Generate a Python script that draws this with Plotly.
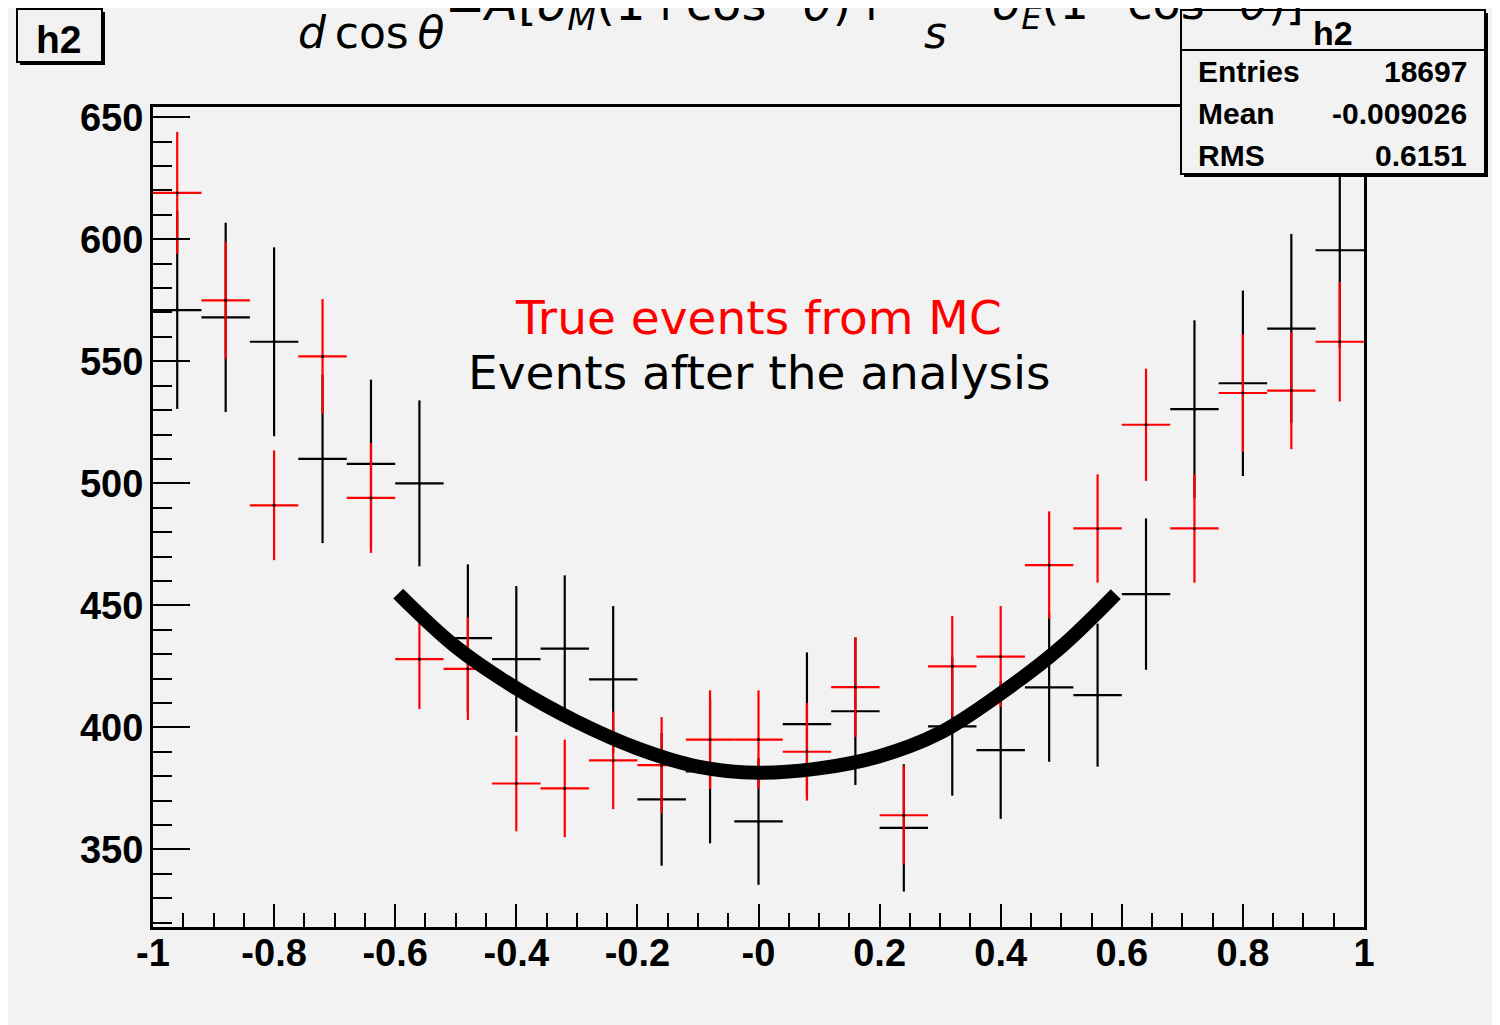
import plotly.graph_objects as go

# ---------------- data ----------------
bin_centers = [-0.96, -0.88, -0.80, -0.72, -0.64, -0.56, -0.48, -0.40, -0.32, -0.24,
               -0.16, -0.08, 0.00, 0.08, 0.16, 0.24, 0.32, 0.40, 0.48, 0.56,
               0.64, 0.72, 0.80, 0.88, 0.96]
bin_half_width = 0.04

true_mc = [619, 575, 491, 552, 494, 428, 424, 377, 375, 386.5,
           384.5, 395, 395, 390, 416.5, 364, 425, 429, 466.5, 481.5,
           524, 481.5, 537, 538, 558]
true_mc_err = [25, 24, 22.5, 23.5, 22.5, 20.5, 21, 19.6, 20, 20,
               19.7, 20.2, 20.2, 20, 20.4, 20.2, 20.6, 20.7, 22, 22.2,
               23, 22.2, 24, 24, 24.5]

analysis = [571, 568, 558, 510, 508, 500, 436.6, 428, 432.3, 419.7,
            370.5, 382, 361.5, 401.3, 406.6, 358.8, 400.4, 390.7, 416.4, 413.2,
            454.6, 530.4, 541, 563.4, 595.5]
analysis_err = [40.5, 38.8, 38.7, 34.5, 34.5, 34, 30.2, 29.9, 30, 30,
                27.2, 29.5, 26, 29.4, 30.2, 26.1, 28.4, 28.2, 30.5, 29.3,
                31, 36.4, 38, 38.8, 40]

fit_x = [-0.595, -0.5, -0.4, -0.3, -0.2, -0.1, 0.0, 0.1, 0.2, 0.3, 0.4, 0.5, 0.59]
fit_y = [454.8, 433.0, 416.0, 402.3, 391.4, 383.9, 381.4, 383.2, 388.2, 397.8, 413.9, 433.0, 454.6]

x_tick_vals = [-1, -0.8, -0.6, -0.4, -0.2, 0, 0.2, 0.4, 0.6, 0.8, 1]
x_tick_text = ["-1", "-0.8", "-0.6", "-0.4", "-0.2", "-0", "0.2", "0.4", "0.6", "0.8", "1"]
y_tick_vals = [350, 400, 450, 500, 550, 600, 650]

hist_name = "h2"
stat_labels = ["Entries", "Mean", "RMS"]
stat_values = ["18697", "-0.009026", "0.6151"]
legend_true = "True events from MC"
legend_ana = "Events after the analysis"

# ---------------- layout helpers ----------------
W, H = 1500, 1025
ML, MR, MT, MB = 145, 144, 99, 106
OFF = 8  # browser body margin
PW = W - ML - MR
PH = H - MT - MB
BG = "#f2f2f2"


def fx(px):
    return ((px - OFF) - ML) / PW


def fy(py):
    return ((H - MB) - (py - OFF)) / PH


fig = go.Figure()

fig.add_trace(go.Scatter(
    x=bin_centers, y=analysis, mode="markers",
    marker=dict(color="black", size=3),
    error_x=dict(type="constant", value=bin_half_width, thickness=2.2, width=0, color="black"),
    error_y=dict(type="data", array=analysis_err, thickness=2.2, width=0, color="black"),
    hoverinfo="x+y", showlegend=False))

fig.add_trace(go.Scatter(
    x=bin_centers, y=true_mc, mode="markers",
    marker=dict(color="black", size=3),
    error_x=dict(type="constant", value=bin_half_width, thickness=2.2, width=0, color="red"),
    error_y=dict(type="data", array=true_mc_err, thickness=2.2, width=0, color="red"),
    hoverinfo="x+y", showlegend=False))

fig.add_trace(go.Scatter(
    x=fit_x, y=fit_y, mode="lines",
    line=dict(color="black", width=14, shape="spline"),
    hoverinfo="skip", showlegend=False))

tick_font = dict(family="Liberation Sans", size=38, color="black", weight="bold")

fig.update_xaxes(
    range=[-1, 1], tickmode="array", tickvals=x_tick_vals, ticktext=x_tick_text,
    ticks="inside", ticklen=23, tickwidth=2, tickcolor="black",
    minor=dict(tickmode="linear", tick0=-1, dtick=0.05, ticks="inside", ticklen=14,
               tickwidth=2, tickcolor="black"),
    showline=True, linewidth=3, linecolor="black", mirror=True,
    showgrid=False, zeroline=False, tickfont=tick_font, ticklabelstandoff=-10)

fig.update_yaxes(
    range=[318.2, 654.2], tickmode="array", tickvals=y_tick_vals,
    ticks="inside", ticklen=37, tickwidth=2, tickcolor="black",
    minor=dict(tickmode="linear", tick0=0, dtick=10, ticks="inside", ticklen=19,
               tickwidth=2, tickcolor="black"),
    showline=True, linewidth=3, linecolor="black", mirror=True,
    showgrid=False, zeroline=False, tickfont=tick_font, ticklabelstandoff=-1)

shapes = []
annotations = []

# top-left title box
shapes.append(dict(type="rect", xref="paper", yref="paper",
                   x0=fx(20), x1=fx(105), y0=fy(65), y1=fy(12),
                   fillcolor="black", line=dict(width=0), layer="above"))
shapes.append(dict(type="rect", xref="paper", yref="paper",
                   x0=fx(17), x1=fx(102), y0=fy(62), y1=fy(9),
                   fillcolor=BG, line=dict(color="black", width=2), layer="above"))
annotations.append(dict(text="<b>%s</b>" % hist_name, xref="paper", yref="paper",
                        x=fx(59), y=fy(40), xanchor="center", yanchor="middle",
                        showarrow=False,
                        font=dict(family="Liberation Sans", size=39, color="black")))

# stats box
shapes.append(dict(type="rect", xref="paper", yref="paper",
                   x0=fx(1184), x1=fx(1488), y0=fy(177), y1=fy(13),
                   fillcolor="black", line=dict(width=0), layer="above"))
shapes.append(dict(type="rect", xref="paper", yref="paper",
                   x0=fx(1181), x1=fx(1485), y0=fy(174), y1=fy(10),
                   fillcolor=BG, line=dict(color="black", width=2), layer="above"))
shapes.append(dict(type="line", xref="paper", yref="paper",
                   x0=fx(1181), x1=fx(1485), y0=fy(50), y1=fy(50),
                   line=dict(color="black", width=2), layer="above"))
annotations.append(dict(text="<b>%s</b>" % hist_name, xref="paper", yref="paper",
                        x=fx(1333), y=fy(33), xanchor="center", yanchor="middle",
                        showarrow=False,
                        font=dict(family="Liberation Sans", size=34, color="black")))
row_y = [72, 113, 155]
for lab, val, yy in zip(stat_labels, stat_values, row_y):
    annotations.append(dict(text="<b>%s</b>" % lab, xref="paper", yref="paper",
                            x=fx(1196), y=fy(yy), xanchor="left", yanchor="middle",
                            showarrow=False,
                            font=dict(family="Liberation Sans", size=30, color="black")))
    annotations.append(dict(text="<b>%s</b>" % val, xref="paper", yref="paper",
                            x=fx(1469), y=fy(yy), xanchor="right", yanchor="middle",
                            showarrow=False,
                            font=dict(family="Liberation Sans", size=30, color="black")))

# formula (partially cut at the top)
ffont = dict(family="DejaVu Sans", size=44, color="black")
annotations.append(dict(text="<i>d</i>\u2009cos\u2009<i>θ</i>", xref="paper", yref="paper",
                        x=fx(296), y=fy(33), xanchor="left", yanchor="middle",
                        showarrow=False, font=ffont))
annotations.append(dict(text="<i>s</i>", xref="paper", yref="paper",
                        x=fx(935), y=fy(33), xanchor="center", yanchor="middle",
                        showarrow=False, font=ffont))
annotations.append(dict(text="=<i>A</i>[<i>σ</i><sub><i>M</i></sub>(1+cos<sup>2</sup> <i>θ</i>)+",
                        xref="paper", yref="paper",
                        x=fx(443), y=fy(3), xanchor="left", yanchor="middle",
                        showarrow=False, font=dict(ffont, size=48)))
annotations.append(dict(text="<i>σ</i><sub><i>E</i></sub>(1−cos<sup>2</sup> <i>θ</i>)]",
                        xref="paper", yref="paper",
                        x=fx(990), y=fy(3), xanchor="left", yanchor="middle",
                        showarrow=False, font=dict(ffont, size=46)))

# legend texts
lfont = dict(family="DejaVu Sans", size=47)
annotations.append(dict(text=legend_true, xref="paper", yref="paper",
                        x=fx(758), y=fy(317), xanchor="center", yanchor="middle",
                        showarrow=False, font=dict(lfont, color="red")))
annotations.append(dict(text=legend_ana, xref="paper", yref="paper",
                        x=fx(759), y=fy(373), xanchor="center", yanchor="middle",
                        showarrow=False, font=dict(lfont, color="black")))

fig.update_layout(
    width=W, height=H,
    margin=dict(l=ML, r=MR, t=MT, b=MB, pad=0),
    paper_bgcolor=BG, plot_bgcolor=BG,
    shapes=shapes, annotations=annotations,
    showlegend=False,
)

fig.write_html("out.html")
